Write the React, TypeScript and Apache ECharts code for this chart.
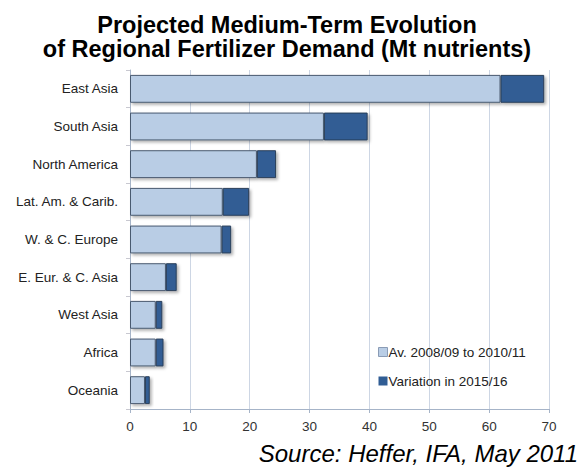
import React, { useEffect, useRef } from "react";
import * as echarts from "echarts";

const categories = [
  "East Asia",
  "South Asia",
  "North America",
  "Lat. Am. & Carib.",
  "W. & C. Europe",
  "E. Eur. & C. Asia",
  "West Asia",
  "Africa",
  "Oceania",
];
const average = [61.9, 32.4, 21.2, 15.5, 15.3, 6.0, 4.3, 4.3, 2.5];
const variation = [7.3, 7.3, 3.2, 4.4, 1.6, 1.8, 1.1, 1.3, 0.8];
const xTicks = [0, 10, 20, 30, 40, 50, 60, 70];

const FONT = "'Liberation Sans', Arial, sans-serif";

export default function App() {
  const ref = useRef<HTMLDivElement>(null);
  useEffect(() => {
    if (!ref.current) return;
    const chart = echarts.init(ref.current, undefined, { renderer: "svg" });
    const cats = [...categories].reverse();
    const avg = [...average].reverse();
    const vari = [...variation].reverse();
    chart.setOption({
      animation: false,
      backgroundColor: "#ffffff",
      title: {
        text: "Projected Medium-Term Evolution\nof Regional Fertilizer Demand (Mt nutrients)",
        left: 287,
        textAlign: "center",
        top: 13,
        padding: 0,
        textStyle: {
          fontFamily: FONT,
          fontSize: 23.5,
          fontWeight: "bold",
          color: "#000",
          lineHeight: 24,
        },
      },
      grid: { left: 130, right: 30, top: 70, bottom: 59 },
      xAxis: {
        type: "value",
        min: xTicks[0],
        max: xTicks[xTicks.length - 1],
        interval: 10,
        axisLine: { show: true, lineStyle: { color: "#a6b4c8" } },
        axisTick: { show: true, length: 4, lineStyle: { color: "#a6b4c8" } },
        axisLabel: { fontFamily: FONT, fontSize: 13.5, color: "#333", margin: 10 },
        splitLine: { show: true, lineStyle: { color: "#cdd6e4", width: 1 } },
      },
      yAxis: {
        type: "category",
        data: cats,
        axisLine: { show: true, lineStyle: { color: "#a6b4c8" } },
        axisTick: { show: true, length: 4, lineStyle: { color: "#c8c8d0" } },
        axisLabel: { fontFamily: FONT, fontSize: 13.5, color: "#222", margin: 12 },
      },
      legend: {
        orient: "vertical",
        left: 378,
        top: 345,
        padding: 0,
        itemWidth: 9,
        itemHeight: 9,
        itemGap: 15,
        icon: "rect",
        textStyle: { fontFamily: FONT, fontSize: 13.5, color: "#222", padding: [0, 0, 0, -4] },
        data: [
          { name: "Av. 2008/09 to 2010/11", itemStyle: { color: "#b9cde5", borderColor: "#8a9bb5", borderWidth: 1 } },
          { name: "Variation in 2015/16", itemStyle: { color: "#305d94", borderWidth: 0 } },
        ],
      },
      series: [
        {
          name: "Av. 2008/09 to 2010/11",
          type: "bar",
          stack: "total",
          data: avg,
          barWidth: "74%",
          itemStyle: {
            color: "#b9cde5",
            borderColor: "#4a5a70",
            borderWidth: 1,
            shadowColor: "rgba(0,0,0,0.3)",
            shadowBlur: 3,
            shadowOffsetX: 2,
            shadowOffsetY: 2,
          },
        },
        {
          name: "Variation in 2015/16",
          type: "bar",
          stack: "total",
          data: vari,
          barWidth: "74%",
          itemStyle: {
            color: "#305d94",
            borderColor: "#2a3f5a",
            borderWidth: 1,
            shadowColor: "rgba(0,0,0,0.3)",
            shadowBlur: 3,
            shadowOffsetX: 2,
            shadowOffsetY: 2,
          },
        },
      ],
      graphic: [
        {
          type: "text",
          right: 1,
          top: 441,
          style: {
            text: "Source: Heffer, IFA, May 2011",
            fontFamily: FONT,
            fontSize: 24,
            fontStyle: "italic",
            fill: "#000",
          },
        },
      ],
    });
    return () => chart.dispose();
  }, []);
  return <div ref={ref} style={{ width: 579, height: 468, position: "absolute", left: 0, top: 0 }} />;
}
